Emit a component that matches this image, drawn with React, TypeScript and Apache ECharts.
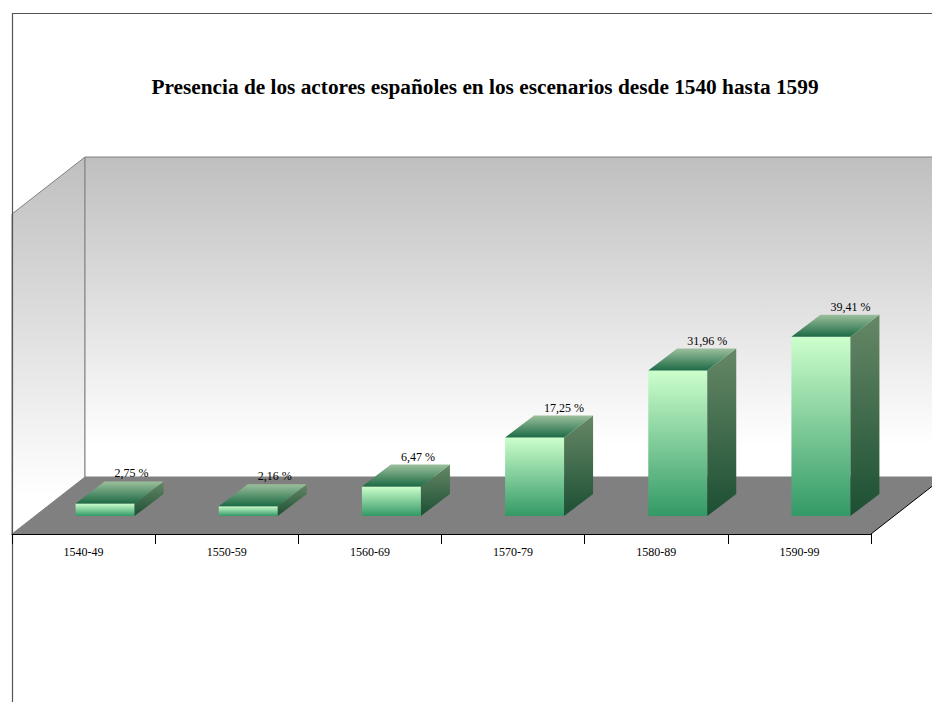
import React, { useEffect, useRef } from "react";
import * as echarts from "echarts";

const titleText = "Presencia de los actores españoles en los escenarios desde 1540 hasta 1599";
const categories = ["1540-49", "1550-59", "1560-69", "1570-79", "1580-89", "1590-99"];
const shares = [2.75, 2.16, 6.47, 17.25, 31.96, 39.41];

const FONT = '"Liberation Serif", "Times New Roman", serif';

// Box geometry of the 3D scene, in pixels.
const LEFT = 12;
const PLOT_W = 859;
const AXIS_Y = 534;
const WALL_H = 320;
const FLOOR_DX = 73;
const FLOOR_DY = 57;
const PX_PER_UNIT = 4.55;
const BAR_W = 59;
const BAR_INSET_X = 21.5; // how far into the floor a bar stands
const BAR_INSET_Y = 18;
const BAR_DX = 29; // depth of a bar
const BAR_DY = 22;

const vGrad = (stops: [number, string][]) =>
  new echarts.graphic.LinearGradient(
    0,
    0,
    0,
    1,
    stops.map(([offset, color]) => ({ offset, color }))
  );

const wallFill = () =>
  vGrad([
    [0, "#bfbfbf"],
    [0.9, "#ffffff"],
    [1, "#ffffff"],
  ]);

const renderBar = (_params: any, api: any) => {
  const i = api.value(0);
  const base = api.coord([i, 0]);
  const top = api.coord([i, api.value(1)]);
  const x0 = base[0] - BAR_W / 2 + BAR_INSET_X;
  const x1 = x0 + BAR_W;
  const yb = base[1] - BAR_INSET_Y;
  const yt = top[1] - BAR_INSET_Y;
  const label = api.value(1).toFixed(2).replace(".", ",") + " %";
  return {
    type: "group",
    children: [
      {
        type: "polygon",
        shape: { points: [[x0, yt], [x1, yt], [x1, yb], [x0, yb]] },
        style: { fill: vGrad([[0, "#ccffcc"], [1, "#339966"]]) },
      },
      {
        type: "polygon",
        shape: {
          points: [
            [x1, yt],
            [x1 + BAR_DX, yt - BAR_DY],
            [x1 + BAR_DX, yb - BAR_DY],
            [x1, yb],
          ],
        },
        style: { fill: vGrad([[0, "#668866"], [1, "#1c4f33"]]) },
      },
      {
        type: "polygon",
        shape: {
          points: [
            [x0, yt],
            [x0 + BAR_DX, yt - BAR_DY],
            [x1 + BAR_DX, yt - BAR_DY],
            [x1, yt],
          ],
        },
        style: { fill: vGrad([[0, "#9cbf9c"], [1, "#1c6b45"]]) },
      },
      {
        type: "text",
        style: {
          x: x0 + 39,
          y: yt - 30,
          text: label,
          fill: "#000000",
          font: `12px ${FONT}`,
          align: "left",
          verticalAlign: "middle",
        },
      },
    ],
  };
};

export default function App() {
  const ref = useRef<HTMLDivElement>(null);

  useEffect(() => {
    if (!ref.current) return;
    const chart = echarts.init(ref.current, undefined, { renderer: "svg" });
    const backY = AXIS_Y - FLOOR_DY;
    const backX = LEFT + FLOOR_DX;
    const right = LEFT + PLOT_W;
    chart.setOption({
      animation: false,
      backgroundColor: "#ffffff",
      title: {
        text: titleText,
        left: 480,
        top: 71,
        textAlign: "center",
        textStyle: { fontFamily: FONT, fontWeight: "bold", fontSize: 21.3, color: "#000000" },
      },
      grid: { left: LEFT, width: PLOT_W, top: AXIS_Y - WALL_H, height: WALL_H },
      xAxis: {
        type: "category",
        data: categories,
        z: 5,
        axisLine: { show: true, lineStyle: { color: "#000000", width: 1 } },
        axisTick: { show: true, length: 10, lineStyle: { color: "#000000" } },
        axisLabel: { color: "#000000", fontFamily: FONT, fontSize: 12, margin: 12 },
      },
      yAxis: { type: "value", min: 0, max: WALL_H / PX_PER_UNIT, show: false, splitLine: { show: false } },
      graphic: [
        {
          type: "polygon",
          z: 0,
          shape: { points: [[LEFT, AXIS_Y - WALL_H], [backX, backY - WALL_H], [backX, backY], [LEFT, AXIS_Y]] },
          style: { fill: wallFill(), stroke: "#808080", lineWidth: 1 },
        },
        {
          type: "polygon",
          z: 0,
          shape: {
            points: [
              [backX, backY - WALL_H],
              [right + FLOOR_DX, backY - WALL_H],
              [right + FLOOR_DX, backY],
              [backX, backY],
            ],
          },
          style: { fill: wallFill(), stroke: "#808080", lineWidth: 1 },
        },
        {
          type: "polygon",
          z: 1,
          shape: {
            points: [
              [LEFT, AXIS_Y],
              [backX, backY],
              [right + FLOOR_DX, backY],
              [right, AXIS_Y],
            ],
          },
          style: { fill: "#808080", stroke: "#000000", lineWidth: 0 },
        },
        {
          type: "line",
          z: 2,
          shape: { x1: right, y1: AXIS_Y, x2: right + FLOOR_DX, y2: backY },
          style: { stroke: "#000000", lineWidth: 1 },
        },
        // outer chart frame
        {
          type: "polyline",
          z: 3,
          shape: { points: [[LEFT + 0.5, 702], [LEFT + 0.5, 13.5], [932, 13.5]] },
          style: { stroke: "#555555", lineWidth: 1.2, fill: null },
        },
      ],
      series: [
        {
          type: "custom",
          z: 4,
          clip: false,
          silent: true,
          renderItem: renderBar,
          encode: { x: 0, y: 1 },
          data: shares.map((v, i) => [i, v]),
        },
      ],
    });
    return () => chart.dispose();
  }, []);

  return (
    <div
      ref={ref}
      style={{ position: "absolute", left: 0, top: 0, width: 932, height: 702, overflow: "hidden" }}
    />
  );
}
